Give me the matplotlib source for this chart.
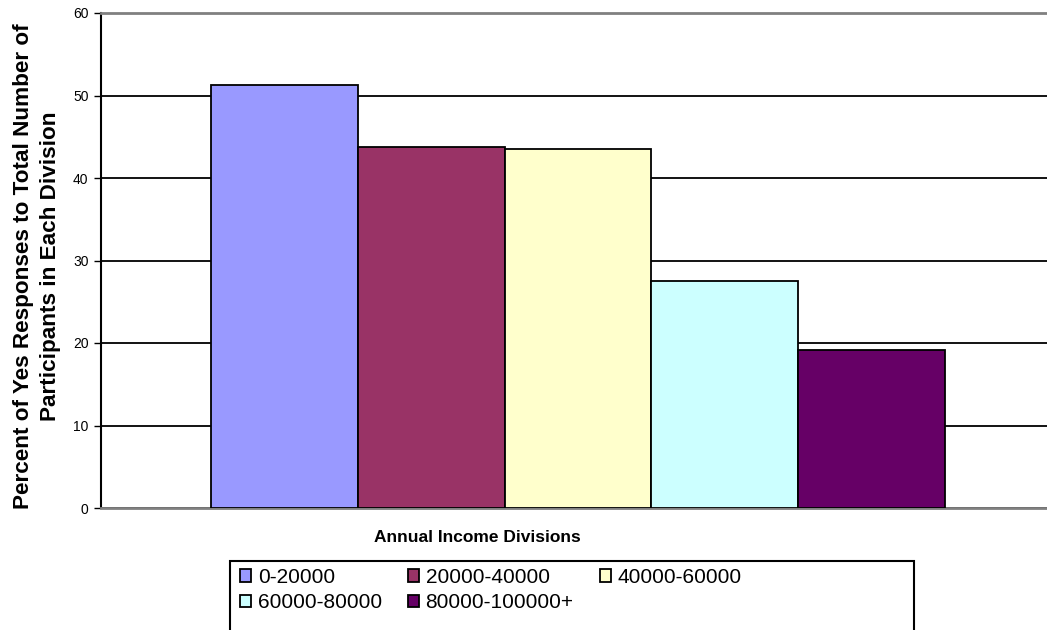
import matplotlib
matplotlib.use("Agg")
import matplotlib.pyplot as plt
from matplotlib.patches import Rectangle

# survey results by income bracket
divisions = ["0-20000", "20000-40000", "40000-60000", "60000-80000", "80000-100000+"]
pct_yes = [51.3, 43.7, 43.5, 27.5, 19.1]
colors = ["#9999FF", "#993366", "#FFFFCC", "#CCFFFF", "#660066"]
yticks = [0, 10, 20, 30, 40, 50, 60]

plt.rcParams["font.family"] = ["Liberation Sans", "DejaVu Sans"]

W, H = 1047, 630
fig = plt.figure(figsize=(W / 100, H / 100), dpi=100)
# plot area runs a little past the right edge of the canvas
ax = fig.add_axes([101 / W, 1 - 508 / H, (1055 - 101) / W, (508 - 13) / H])

xs = list(range(len(divisions)))
bars = ax.bar(xs, pct_yes, width=1.0, color=colors, edgecolor="black",
              linewidth=1.3, zorder=3)

ax.set_xlim(-1.25, len(divisions) + 0.25)
ax.set_ylim(0, 60)
ax.set_yticks(yticks)
ax.set_yticklabels([str(t) for t in yticks], fontsize=10)
ax.set_xticks([])
ax.tick_params(axis="y", direction="out", length=5, width=1, pad=4)
ax.yaxis.grid(True, color="black", linewidth=1.3, zorder=0)
ax.set_axisbelow(True)

ax.spines["left"].set_color("black")
ax.spines["left"].set_linewidth(1.5)
ax.spines["top"].set_color("#808080")
ax.spines["top"].set_linewidth(2)
ax.spines["bottom"].set_color("#808080")
ax.spines["bottom"].set_linewidth(2)
ax.spines["right"].set_visible(False)

fig.text(477 / W, 1 - 538 / H, "Annual Income Divisions", fontsize=12.5,
         fontweight="bold", ha="center", va="center")
fig.text(37 / W, 1 - 266 / H,
         "Percent of Yes Responses to Total Number of\nParticipants in Each Division",
         fontsize=16.2, fontweight="bold", rotation=90, ha="center", va="center",
         multialignment="center", linespacing=1.35)

# legend, laid out in rows of three
order = [0, 3, 1, 4, 2]
leg = fig.legend([bars.patches[i] for i in order], [divisions[i] for i in order],
                 ncol=3, loc="upper left", bbox_to_anchor=(240 / W, 1 - 568 / H),
                 frameon=False, fontsize=15, borderpad=0, handlelength=0.55,
                 handleheight=0.55, handletextpad=0.3, labelspacing=0.3,
                 columnspacing=1.25, borderaxespad=0)
fig.add_artist(Rectangle((230 / W, 1 - 635 / H), 684 / W, 74 / H,
                         transform=fig.transFigure, fill=False,
                         edgecolor="black", linewidth=1.5))

fig.savefig("out.png", dpi=100)
